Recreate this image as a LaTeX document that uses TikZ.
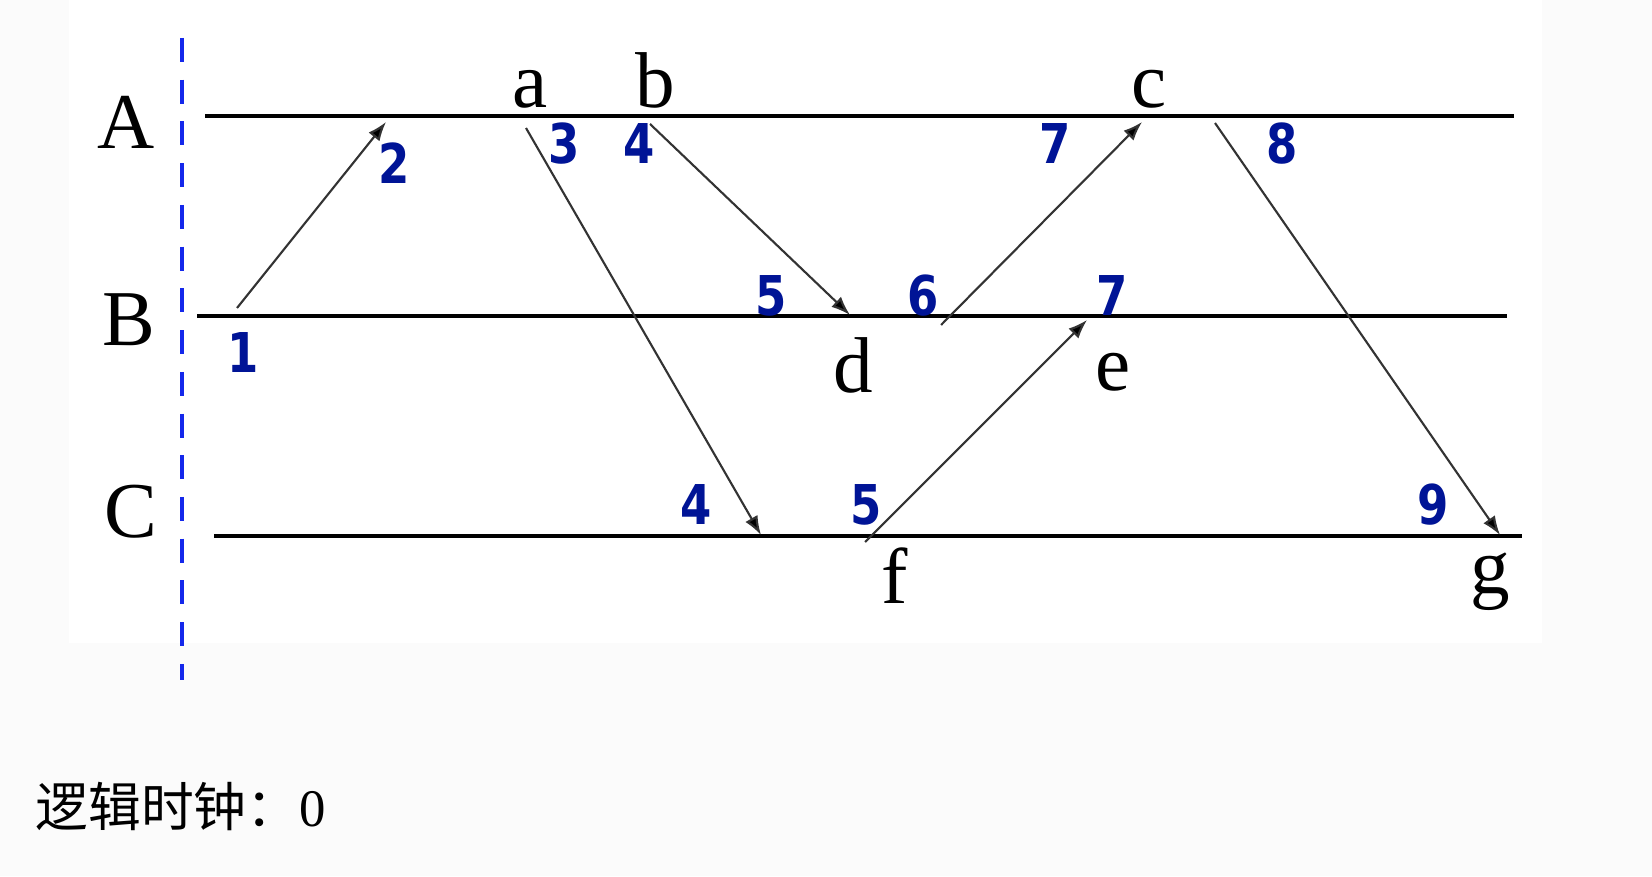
\documentclass[tikz,border=0pt]{standalone}
\usepackage{fontspec}
\setmainfont{Liberation Serif}
\newfontfamily\numfont[FakeStretch=0.82]{DejaVu Sans}
\newfontfamily\cjk{Noto Sans CJK SC}
\usetikzlibrary{arrows.meta}
\definecolor{stampblue}{RGB}{0,20,150}
\definecolor{cutblue}{RGB}{20,40,235}
\definecolor{pagegray}{RGB}{251,251,251}

\begin{document}
\begin{tikzpicture}[
    x=0.01cm, y=-0.01cm,
    proc/.style={font=\fontsize{22.5}{24}\selectfont, inner sep=0pt, anchor=base},
    event/.style={font=\fontsize{22.5}{24}\selectfont, inner sep=0pt, anchor=base},
    stamp/.style={font=\numfont\bfseries\fontsize{15.6}{17}\selectfont, text=stampblue, inner sep=0pt, anchor=base},
    timeline/.style={line width=1pt},
    msg/.style={-{Latex[length=0.19cm,width=0.14cm,fill=black]}, line width=0.6pt, draw=black!80},
    cut/.style={draw=cutblue, line width=1.2pt, dash pattern=on 0.24cm off 0.177cm},
]

% ================== Page ==================
\useasboundingbox (0,0) rectangle (1652,876);
\fill[pagegray] (0,0) rectangle (1652,876);
\fill[white] (69,0) rectangle (1542,643);

% ================== Processes ==================
\node[proc] (pA) at (126,149) {A};
\node[proc] (pB) at (129,345) {B};
\node[proc] (pC) at (131,537) {C};

\coordinate (A-start) at (205,116); \coordinate (A-end) at (1514,116);
\coordinate (B-start) at (197,316); \coordinate (B-end) at (1507,316);
\coordinate (C-start) at (214,536); \coordinate (C-end) at (1522,536);

\draw[timeline] (A-start) -- (A-end);
\draw[timeline] (B-start) -- (B-end);
\draw[timeline] (C-start) -- (C-end);

% cut line
\coordinate (cut-top) at (182,38);
\coordinate (cut-bot) at (182,680);
\draw[cut] (cut-top) -- (cut-bot);

% ================== Events ==================
\node[event] (ea) at (530,107) {a};
\node[event] (eb) at (655,107) {b};
\node[event] (ec) at (1149,107) {c};
\node[event] (ed) at (853,392) {d};
\node[event] (ee) at (1113,390) {e};
\node[event] (ef) at (895,603) {f};
\node[event] (eg) at (1490,593) {g};

% ================== Messages ==================
\coordinate (m1s) at (237,308); \coordinate (m1r) at (386,122);
\coordinate (m2s) at (526,128); \coordinate (m2r) at (761,535);
\coordinate (m3s) at (650,124); \coordinate (m3r) at (850,315);
\coordinate (m4s) at (941,325); \coordinate (m4r) at (1142,122);
\coordinate (m5s) at (865,542); \coordinate (m5r) at (1087,320);
\coordinate (m6s) at (1215,123); \coordinate (m6r) at (1500,535);

\draw[msg] (m1s) -- (m1r);
\draw[msg] (m2s) -- (m2r);
\draw[msg] (m3s) -- (m3r);
\draw[msg] (m4s) -- (m4r);
\draw[msg] (m5s) -- (m5r);
\draw[msg] (m6s) -- (m6r);

% ================== Clock values ==================
\node[stamp] (tA2) at (394,183) {2};
\node[stamp] (tA3) at (564,164) {3};
\node[stamp] (tA4) at (639,164) {4};
\node[stamp] (tA7) at (1055,164) {7};
\node[stamp] (tA8) at (1282,164) {8};

\node[stamp] (tB1) at (243,372) {1};
\node[stamp] (tB5) at (771,315) {5};
\node[stamp] (tB6) at (923,315) {6};
\node[stamp] (tB7) at (1112,315) {7};

\node[stamp] (tC4) at (696,524) {4};
\node[stamp] (tC5) at (866,524) {5};
\node[stamp] (tC9) at (1433,524) {9};

% ================== Caption ==================
\node[anchor=base west, inner sep=0pt, font=\fontsize{15}{17}\selectfont] (clock) at (35,826) {{\cjk 逻辑时钟：}0};

\end{tikzpicture}
\end{document}
